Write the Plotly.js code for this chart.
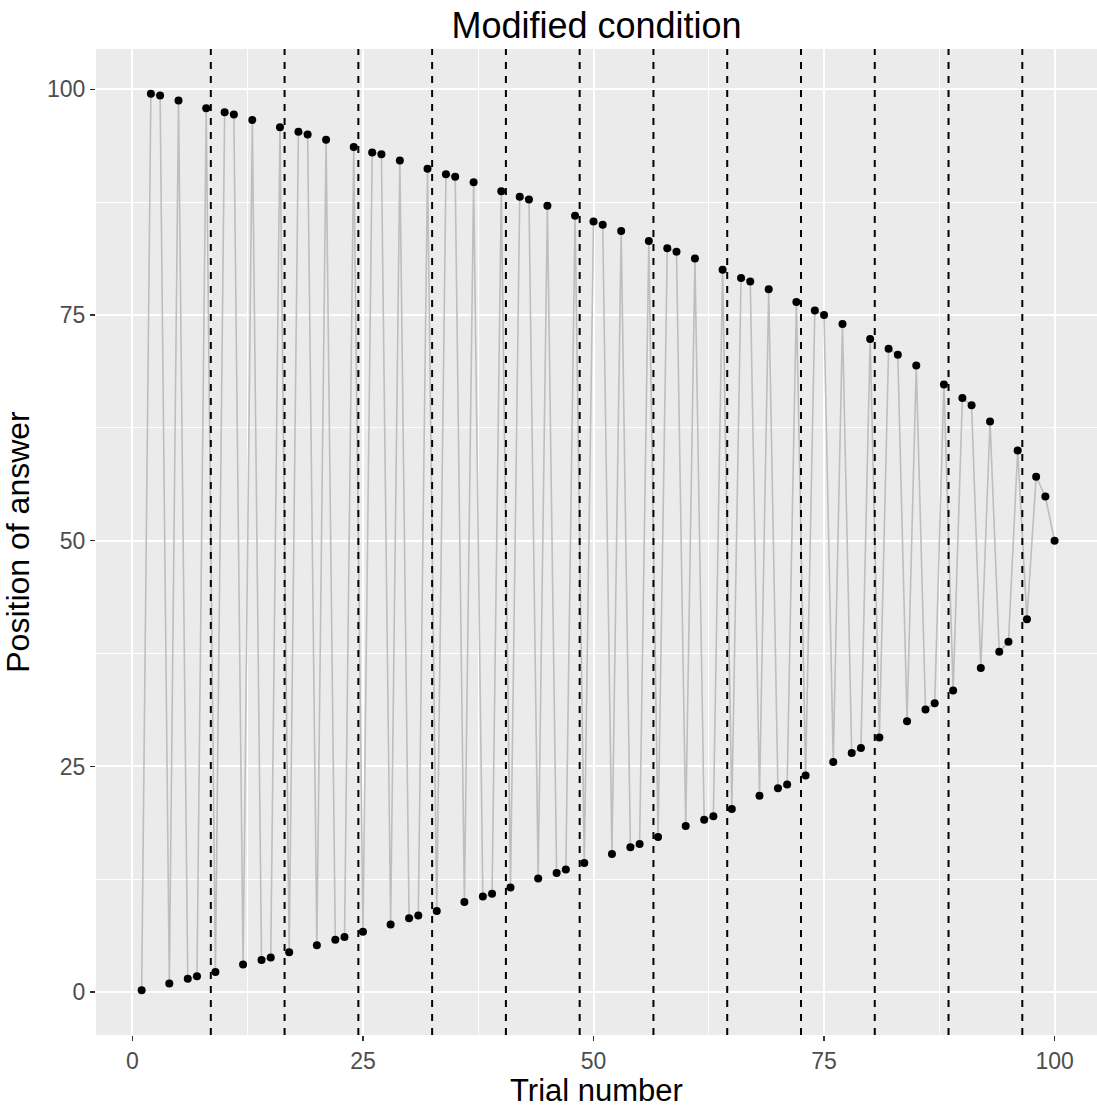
<!DOCTYPE html>
<html>
<head>
<meta charset="utf-8">
<script src="https://cdn.plot.ly/plotly-3.0.1.min.js"></script>
<style>html,body{margin:0;padding:0;background:#fff;}#chart{width:1097px;height:1108px;}</style>
</head>
<body>
<div id="chart"></div>
<script>
const trials = [1,2,3,4,5,6,7,8,9,10,11,12,13,14,15,16,17,18,19,20,
  21,22,23,24,25,26,27,28,29,30,31,32,33,34,35,36,37,38,39,40,
  41,42,43,44,45,46,47,48,49,50,51,52,53,54,55,56,57,58,59,60,
  61,62,63,64,65,66,67,68,69,70,71,72,73,74,75,76,77,78,79,80,
  81,82,83,84,85,86,87,88,89,90,91,92,93,94,95,96,97,98,99,100];

const positions = [0.22,99.5,99.3,0.96,98.75,1.5,1.77,97.9,2.25,97.45,
  97.2,3.06,96.6,3.58,3.84,95.8,4.43,95.3,95.0,5.2,
  94.4,5.8,6.1,93.6,6.7,93.0,92.8,7.5,92.1,8.2,
  8.5,91.2,9.0,90.6,90.3,10.0,89.7,10.6,10.9,88.7,
  11.6,88.1,87.8,12.6,87.1,13.2,13.6,86.0,14.3,85.35,
  85.0,15.3,84.3,16.05,16.4,83.2,17.2,82.4,82.0,18.4,
  81.25,19.1,19.5,80.0,20.3,79.1,78.7,21.75,77.85,22.6,
  23.0,76.45,24.0,75.5,75.0,25.5,74.0,26.5,27.05,72.35,
  28.2,71.25,70.6,30.0,69.4,31.3,32.0,67.3,33.4,65.8,
  65.0,35.9,63.2,37.7,38.8,60.0,41.3,57.1,54.9,50.0];

const blockBoundaries = [8.5,16.5,24.5,32.5,40.5,48.5,56.5,64.5,72.5,80.5,88.5,96.5];

const xTicks = [0,25,50,75,100];
const yTicks = [0,25,50,75,100];

const FONT = 'Liberation Sans, Arial, sans-serif';

const traces = [
  {x: trials, y: positions, type: 'scatter', mode: 'lines',
   line: {color: '#BEBEBE', width: 1.6}, hoverinfo: 'skip', showlegend: false},
  {x: trials, y: positions, type: 'scatter', mode: 'markers',
   marker: {color: '#000', size: 8}, showlegend: false}
];

const shapes = blockBoundaries.map(b => ({
  type: 'line', xref: 'x', yref: 'paper', x0: b, x1: b, y0: 0, y1: 1,
  line: {color: '#000', width: 2, dash: '7px,7px'}, layer: 'above'
}));

const layout = {
  width: 1097, height: 1108,
  margin: {l: 96, r: 0, t: 49, b: 73, pad: 0},
  paper_bgcolor: '#fff', plot_bgcolor: '#EBEBEB',
  font: {family: FONT, color: '#000'},
  title: {text: 'Modified condition', font: {family: FONT, size: 36, color: '#000'},
          xref: 'paper', x: 0.5, xanchor: 'center', yref: 'container', y: 0.977, yanchor: 'middle'},
  xaxis: {range: [-3.95, 104.6], tickvals: xTicks, ticktext: xTicks.map(String),
          ticks: 'outside', ticklen: 5, tickwidth: 1.5, tickcolor: '#333',
          tickfont: {family: FONT, size: 23, color: '#4D4D4D'},
          showgrid: true, gridcolor: '#fff', gridwidth: 2, zeroline: false, showline: false,
          minor: {tickvals: [12.5, 37.5, 62.5, 87.5], showgrid: true, gridcolor: '#fff', gridwidth: 1, ticklen: 0},
          title: {text: 'Trial number', font: {family: FONT, size: 31, color: '#000'}, standoff: 3},
          automargin: false},
  yaxis: {range: [-4.74, 104.46], tickvals: yTicks, ticktext: yTicks.map(String),
          ticks: 'outside', ticklen: 5, tickwidth: 1.5, tickcolor: '#333',
          tickfont: {family: FONT, size: 23, color: '#4D4D4D'},
          showgrid: true, gridcolor: '#fff', gridwidth: 2, zeroline: false, showline: false,
          minor: {tickvals: [12.5, 37.5, 62.5, 87.5], showgrid: true, gridcolor: '#fff', gridwidth: 1, ticklen: 0},
          title: {text: 'Position of answer', font: {family: FONT, size: 32, color: '#000'}, standoff: 14},
          automargin: false},
  shapes: shapes
};

Plotly.newPlot('chart', traces, layout, {displayModeBar: false, staticPlot: true});
</script>
</body>
</html>
